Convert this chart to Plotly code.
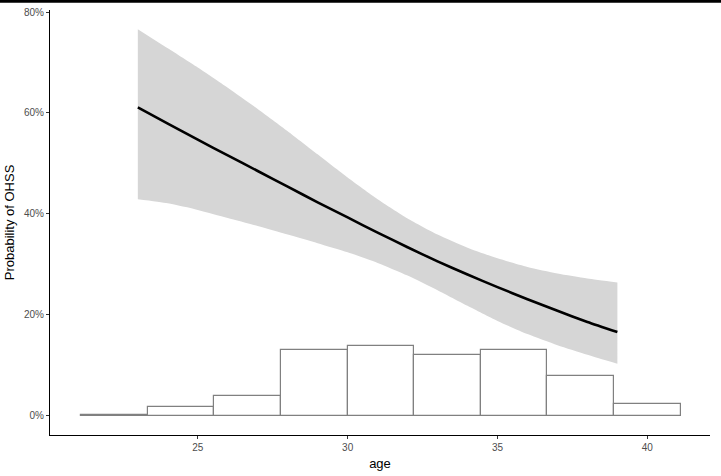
import plotly.graph_objects as go

# Fitted curve and confidence band
age_fit = [23, 24, 25, 26, 27, 28, 29, 30, 31, 32, 33, 34, 35, 36, 37, 38, 39]
prob_fit = [0.611, 0.579, 0.547, 0.516, 0.485, 0.454, 0.423, 0.393, 0.363, 0.334,
            0.306, 0.280, 0.255, 0.231, 0.208, 0.186, 0.166]
prob_upper = [0.766, 0.728, 0.690, 0.650, 0.608, 0.564, 0.518, 0.472, 0.429, 0.391,
              0.359, 0.333, 0.312, 0.295, 0.282, 0.272, 0.264]
prob_lower = [0.429, 0.421, 0.408, 0.392, 0.376, 0.359, 0.342, 0.324, 0.303, 0.278,
              0.249, 0.218, 0.188, 0.162, 0.140, 0.121, 0.103]

# Histogram of age (bar heights as proportions)
bin_start = 21.1
bin_width = 2.224
hist_heights = [0.0025, 0.017, 0.040, 0.130, 0.1375, 0.120, 0.130, 0.079, 0.0225]
bin_centers = [bin_start + bin_width * (i + 0.5) for i in range(len(hist_heights))]

y_ticks = [0, 0.2, 0.4, 0.6, 0.8]
y_ticklabels = ["0%", "20%", "40%", "60%", "80%"]
x_ticks = [25, 30, 35, 40]

fig = go.Figure()

fig.add_trace(go.Scatter(x=age_fit, y=prob_lower, mode="lines",
                         line=dict(width=0, shape="spline", smoothing=0.6, color="rgba(0,0,0,0)"),
                         showlegend=False, hoverinfo="skip"))
fig.add_trace(go.Scatter(x=age_fit, y=prob_upper, mode="lines",
                         line=dict(width=0, shape="spline", smoothing=0.6, color="rgba(0,0,0,0)"),
                         fill="tonexty", fillcolor="#D6D6D6",
                         showlegend=False, hoverinfo="skip"))

fig.add_trace(go.Bar(x=bin_centers, y=hist_heights, width=bin_width,
                     marker=dict(color="white", line=dict(color="#808080", width=1.2)),
                     showlegend=False))

fig.add_trace(go.Scatter(x=age_fit, y=prob_fit, mode="lines",
                         line=dict(color="black", width=2.6, shape="spline", smoothing=0.6),
                         showlegend=False))

fig.update_layout(
    width=721, height=476,
    margin=dict(l=50, r=11, t=7, b=41),
    plot_bgcolor="white", paper_bgcolor="white",
    font=dict(family="Liberation Sans, Arial, sans-serif", color="black"),
    bargap=0,
    xaxis=dict(range=[20.07, 42.09], tickvals=x_ticks, showgrid=False, zeroline=False,
               showline=True, linecolor="black", linewidth=1.1,
               ticks="outside", ticklen=3, tickcolor="#333333",
               tickfont=dict(size=10, color="#4D4D4D"),
               title=dict(text="age", font=dict(size=13), standoff=6)),
    yaxis=dict(range=[-0.038, 0.804], tickvals=y_ticks, ticktext=y_ticklabels,
               showgrid=False, zeroline=False,
               showline=True, linecolor="black", linewidth=1.1,
               ticks="outside", ticklen=3, tickcolor="#333333",
               tickfont=dict(size=10, color="#4D4D4D"),
               title=dict(text="Probability of OHSS", font=dict(size=13), standoff=6)),
    shapes=[dict(type="line", xref="paper", yref="paper",
                 x0=-0.1, x1=1.1, y0=1.0205, y1=1.0205,
                 line=dict(color="black", width=3))],
)

fig.write_html("out.html")
